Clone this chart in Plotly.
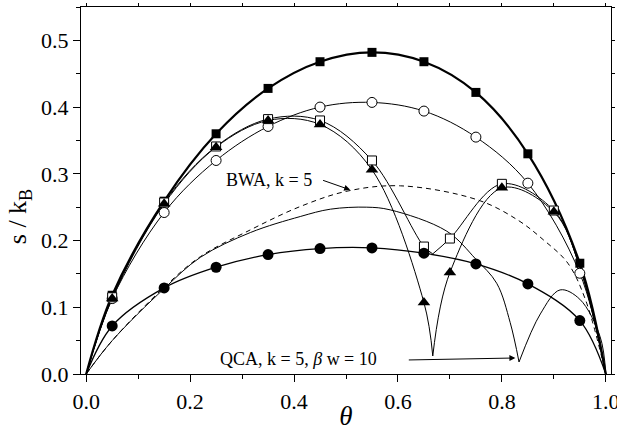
import plotly.graph_objects as go

# Coverage values at which the simulation markers are drawn
theta_pts = [0.05, 0.15, 0.25, 0.35, 0.45, 0.55, 0.65, 0.75, 0.85, 0.95]

# Filled squares
sq_fill_y = [0.118, 0.259, 0.360, 0.428, 0.468, 0.482, 0.468, 0.422, 0.330, 0.166]
# Open circles
circ_open_y = [0.113, 0.242, 0.320, 0.371, 0.400, 0.407, 0.394, 0.355, 0.286, 0.151]
# Filled circles
circ_fill_y = [0.072, 0.129, 0.160, 0.179, 0.188, 0.189, 0.181, 0.165, 0.135, 0.080]

# Open squares (extra points around the feature near theta = 2/3)
sq_open_x = [0.05, 0.15, 0.25, 0.35, 0.45, 0.55, 0.65, 0.70, 0.80, 0.90]
sq_open_y = [0.115, 0.257, 0.341, 0.382, 0.380, 0.320, 0.191, 0.203, 0.285, 0.245]
sq_open_line_x = [0, 0.05, 0.15, 0.25, 0.35, 0.45, 0.55, 0.65, 0.667, None,
                  0.667, 0.70, 0.80, 0.90, 0.95, 1.0]
sq_open_line_y = [0, 0.115, 0.257, 0.341, 0.382, 0.380, 0.320, 0.191, 0.180, None,
                  0.180, 0.203, 0.285, 0.245, 0.160, 0]

# Filled triangles
tri_x = [0.05, 0.15, 0.25, 0.35, 0.45, 0.55, 0.65, 0.70, 0.80, 0.90]
tri_y = [0.113, 0.255, 0.340, 0.380, 0.374, 0.306, 0.107, 0.152, 0.279, 0.243]
tri_line_x = [0, 0.05, 0.15, 0.25, 0.35, 0.45, 0.55, 0.65, 0.667, None,
              0.667, 0.70, 0.80, 0.90, 0.95, 1.0]
tri_line_y = [0, 0.113, 0.255, 0.340, 0.380, 0.374, 0.306, 0.107, 0.027, None,
              0.027, 0.152, 0.279, 0.243, 0.160, 0]

# QCA, k = 5, beta*w = 10 (two branches meeting at the cusp)
qca_x = [0, 0.05, 0.15, 0.22, 0.316, 0.412, 0.47, 0.54, 0.585, 0.694, 0.75, 0.79, 0.816, 0.833, None,
         0.833, 0.874, 0.912, 0.95, 0.989, 1.0]
qca_y = [0, 0.050, 0.128, 0.175, 0.212, 0.236, 0.247, 0.250, 0.246, 0.214, 0.172, 0.136, 0.077, 0.018, None,
         0.018, 0.090, 0.126, 0.112, 0.056, 0]

# BWA, k = 5
bwa_x = [0, 0.05, 0.15, 0.22, 0.316, 0.412, 0.502, 0.605, 0.753, 0.83, 0.88, 0.927, 0.961, 1.0]
bwa_y = [0, 0.050, 0.130, 0.176, 0.216, 0.251, 0.274, 0.282, 0.261, 0.231, 0.201, 0.166, 0.111, 0]

fig = go.Figure()

def closed(ys):
    return [0] + list(ys) + [0]

theta_line = [0] + theta_pts + [1.0]

# smooth curves
fig.add_trace(go.Scatter(x=theta_line, y=closed(sq_fill_y), mode="lines",
                         line=dict(color="black", width=2.2, shape="spline")))
fig.add_trace(go.Scatter(x=theta_line, y=closed(circ_open_y), mode="lines",
                         line=dict(color="black", width=1, shape="spline")))
fig.add_trace(go.Scatter(x=theta_line, y=closed(circ_fill_y), mode="lines",
                         line=dict(color="black", width=1.3, shape="spline")))
fig.add_trace(go.Scatter(x=sq_open_line_x, y=sq_open_line_y, mode="lines",
                         line=dict(color="black", width=1, shape="spline")))
fig.add_trace(go.Scatter(x=tri_line_x, y=tri_line_y, mode="lines",
                         line=dict(color="black", width=1, shape="spline")))
fig.add_trace(go.Scatter(x=qca_x, y=qca_y, mode="lines",
                         line=dict(color="black", width=1, shape="spline")))
fig.add_trace(go.Scatter(x=bwa_x, y=bwa_y, mode="lines",
                         line=dict(color="black", width=1, shape="spline", dash="5px,4px")))

# markers
fig.add_trace(go.Scatter(x=theta_pts, y=sq_fill_y, mode="markers",
                         marker=dict(symbol="square", size=9, color="black")))
fig.add_trace(go.Scatter(x=theta_pts, y=circ_open_y, mode="markers",
                         marker=dict(symbol="circle", size=10, color="white",
                                     line=dict(color="black", width=1))))
fig.add_trace(go.Scatter(x=sq_open_x, y=sq_open_y, mode="markers",
                         marker=dict(symbol="square", size=9, color="white",
                                     line=dict(color="black", width=1))))
fig.add_trace(go.Scatter(x=tri_x, y=tri_y, mode="markers",
                         marker=dict(symbol="triangle-up", size=11, color="black")))
fig.add_trace(go.Scatter(x=theta_pts, y=circ_fill_y, mode="markers",
                         marker=dict(symbol="circle", size=11, color="black")))

# short ticks on the top and right frame edges
fig.add_trace(go.Scatter(x=[None], y=[None], xaxis="x2", yaxis="y2", showlegend=False))

serif = "Liberation Serif, Times New Roman, Times, serif"
xr = [-0.01, 1.01]
yr = [0.0, 0.55]

arrow_style = dict(showarrow=True, arrowhead=2, arrowsize=1.2, arrowwidth=1,
                   arrowcolor="black", text="", xref="x", yref="y",
                   axref="x", ayref="y")

fig.update_layout(
    width=617, height=431,
    margin=dict(l=81, r=6, t=7, b=57),
    plot_bgcolor="white", paper_bgcolor="white",
    showlegend=False,
    font=dict(family=serif, color="black", size=22),
    xaxis=dict(range=xr, dtick=0.2, tickformat=".1f", showgrid=False, zeroline=False,
               automargin=False, ticklabeloverflow="allow",
               showline=True, linecolor="black", linewidth=1.3,
               ticks="outside", ticklen=7, tickwidth=1.2, tickcolor="black",
               minor=dict(dtick=0.1, ticks="outside", ticklen=4, tickwidth=1.2, tickcolor="black"),
               title=dict(text="<i>θ</i>", font=dict(size=27), standoff=0)),
    yaxis=dict(range=yr, dtick=0.1, tickformat=".1f", showgrid=False, zeroline=False,
               automargin=False,
               showline=True, linecolor="black", linewidth=1.3,
               ticks="outside", ticklen=7, tickwidth=1.2, tickcolor="black",
               minor=dict(dtick=0.05, ticks="outside", ticklen=4, tickwidth=1.2, tickcolor="black"),
               title=dict(text="s / k<sub>B</sub>" + "&nbsp;" * 8, font=dict(size=26), standoff=6)),
    xaxis2=dict(range=xr, overlaying="x", side="top", anchor="y", dtick=0.1,
                automargin=False,
                showticklabels=False, showgrid=False, zeroline=False,
                showline=True, linecolor="black", linewidth=1.3,
                ticks="outside", ticklen=3, tickcolor="black"),
    yaxis2=dict(range=yr, overlaying="y", side="right", anchor="x", dtick=0.05,
                automargin=False,
                showticklabels=False, showgrid=False, zeroline=False,
                showline=True, linecolor="black", linewidth=1.3,
                ticks="outside", ticklen=3, tickcolor="black"),
    annotations=[
        dict(x=0.508, y=0.276, ax=0.453, ay=0.291, **arrow_style),
        dict(x=0.826, y=0.024, ax=0.618, ay=0.021, **arrow_style),
        dict(x=0.352, y=0.290, xref="x", yref="y", text="BWA, k = 5", showarrow=False,
             font=dict(size=18)),
        dict(x=0.408, y=0.023, xref="x", yref="y", text="QCA, k = 5, <i>β</i> w = 10",
             showarrow=False, font=dict(size=18)),
    ],
)

fig.write_html("out.html")
